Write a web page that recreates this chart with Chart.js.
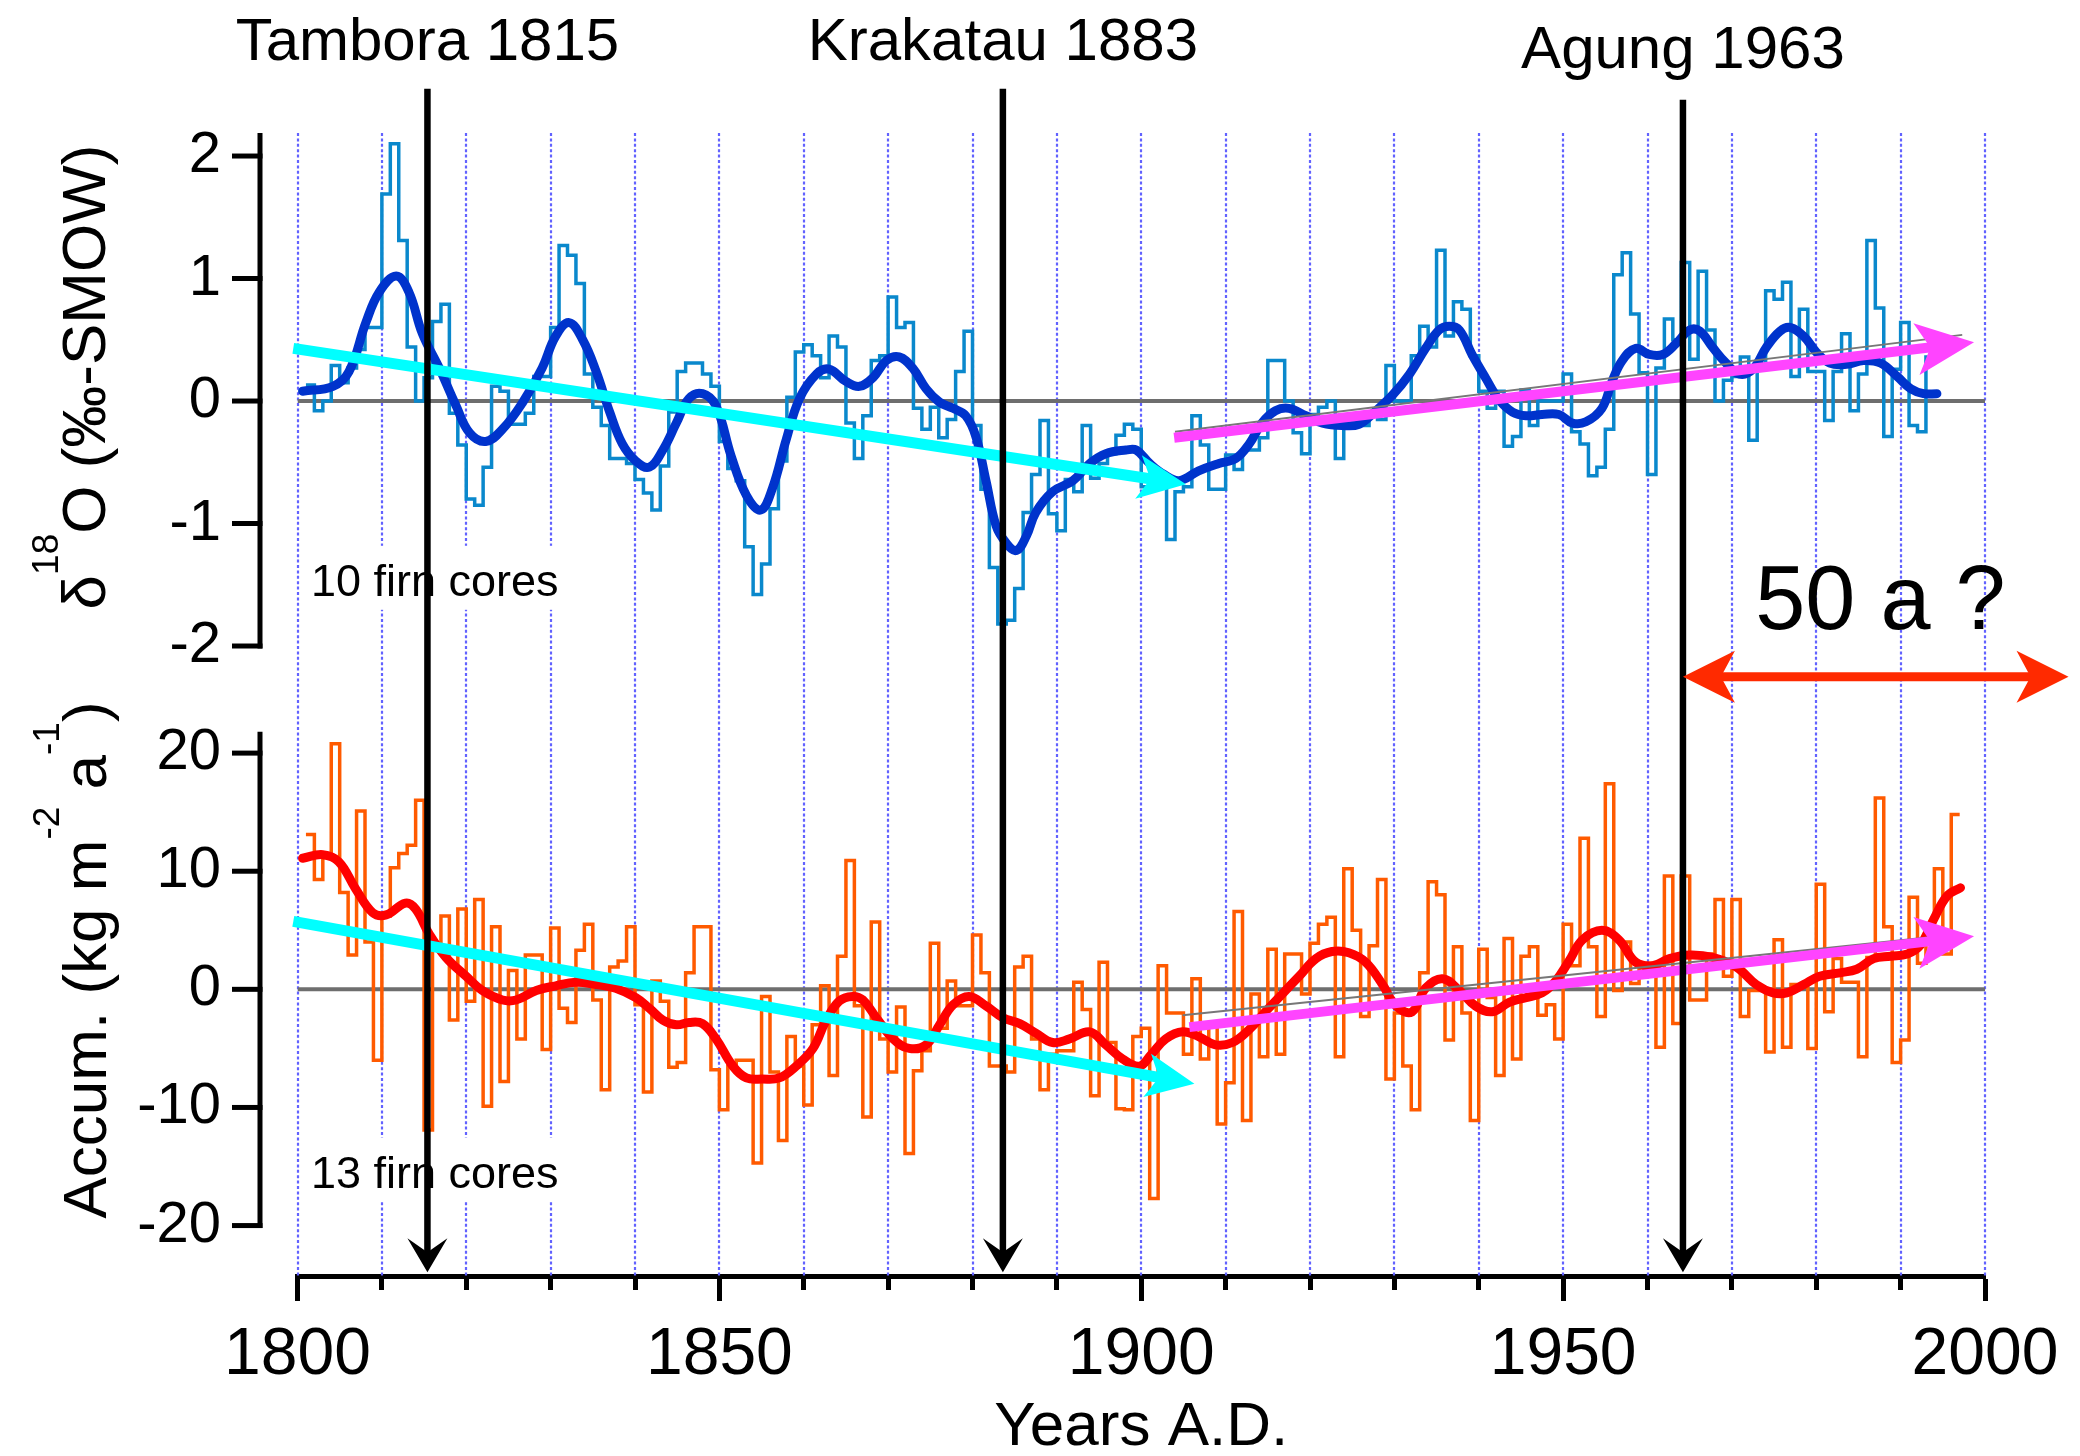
<!DOCTYPE html>
<html>
<head>
<meta charset="utf-8">
<title>δ18O and accumulation 1800–2000</title>
<script src="https://cdn.jsdelivr.net/npm/chart.js@4.4.1/dist/chart.umd.min.js"></script>
<style>
  html, body { margin: 0; padding: 0; background: #fff; }
  canvas { display: block; }
</style>
</head>
<body>
<canvas id="chart" width="2080" height="1456"></canvas>
<script>
// annual δ18O stack (10 firn cores), one value per year starting 1801
const isoFirstYear = 1801;
const isoValues = [
  0.13, -0.08, 0.00, 0.29, 0.15, 0.27, 0.42, 0.60, 0.60, 1.69,
  2.10, 1.31, 0.44, 0.00, 0.19, 0.65, 0.79, -0.10, -0.36, -0.80,
  -0.85, -0.54, 0.12, 0.08, -0.19, -0.19, -0.10, 0.20, 0.20, 0.60,
  1.27, 1.19, 0.96, 0.22, -0.05, -0.20, -0.47, -0.47, -0.51, -0.64,
  -0.75, -0.89, -0.53, -0.09, 0.24, 0.31, 0.31, 0.22, 0.12, -0.33,
  -0.55, -0.65, -1.19, -1.58, -1.33, -0.88, -0.49, 0.03, 0.40, 0.46,
  0.37, 0.19, 0.53, 0.44, -0.18, -0.47, -0.12, 0.33, 0.37, 0.85,
  0.60, 0.64, -0.06, -0.23, -0.05, -0.30, -0.15, 0.24, 0.57, -0.20,
  -0.72, -1.36, -1.82, -1.79, -1.53, -0.91, -0.60, -0.16, -0.92, -1.06,
  -0.64, -0.74, -0.20, -0.63, -0.51, -0.43, -0.28, -0.19, -0.23, -0.70,
  -0.60, -0.60, -1.13, -0.74, -0.70, -0.12, -0.36, -0.72, -0.72, -0.44,
  -0.56, -0.40, -0.40, -0.30, 0.33, 0.33, 0.00, -0.26, -0.43, -0.11,
  -0.05, 0.00, -0.47, -0.20, -0.15, -0.20, -0.10, -0.15, 0.29, 0.00,
  0.00, 0.37, 0.61, 0.44, 1.23, 0.53, 0.81, 0.75, 0.37, 0.08,
  -0.06, 0.08, -0.37, -0.29, 0.09, -0.20, 0.00, 0.00, 0.00, 0.22,
  -0.25, -0.35, -0.61, -0.54, -0.23, 1.03, 1.21, 0.71, 0.23, -0.60,
  0.27, 0.67, 0.50, 1.13, 0.34, 1.06, 0.58, 0.00, 0.17, 0.20,
  0.36, -0.32, 0.30, 0.90, 0.83, 0.97, 0.20, 0.75, 0.24, 0.24,
  -0.16, 0.24, 0.55, -0.08, 0.22, 1.31, 0.76, -0.29, 0.26, 0.64,
  -0.20, -0.25, 0.36
];

// annual accumulation anomaly (13 firn cores), kg m-2 a-1, starting 1801
const accFirstYear = 1801;
const accValues = [
  13.1, 9.3, 11.2, 20.8, 8.2, 2.9, 15.1, 4.0, -6.0, 6.2,
  10.3, 11.5, 12.2, 16.0, -11.9, 3.6, 6.2, -2.6, 6.8, -1.0,
  7.6, -9.9, 5.3, -7.8, 1.6, -4.2, 2.9, 2.9, -5.1, 5.2,
  -1.6, -2.8, 3.3, 5.5, -0.9, -8.5, 1.9, 2.4, 5.3, -1.3,
  -8.7, 0.7, -1.0, -6.6, -6.2, 1.4, 5.3, 5.3, -6.8, -10.2,
  -6.5, -6.0, -6.0, -14.7, -0.6, -7.0, -12.8, -4.0, -6.5, -9.8,
  -3.0, 0.3, -7.3, 2.8, 10.9, -1.4, -10.8, 5.7, -4.2, -7.0,
  -1.5, -13.9, -6.9, -5.2, 3.9, -3.3, 0.7, -1.4, -1.4, 4.6,
  1.4, -6.5, -6.5, -7.0, 1.9, 2.8, -4.2, -8.5, -5.5, -5.2,
  -5.2, 0.6, -1.7, -9.0, 2.3, -4.5, -10.1, -10.2, -4.0, -3.3,
  -17.7, 2.0, -2.0, -2.0, -5.5, 0.9, -5.9, -3.0, -11.4, -7.9,
  6.6, -11.1, -0.4, -5.7, 3.4, -5.5, 3.0, 3.0, -0.4, 3.9,
  5.5, 6.1, -5.7, 10.2, 5.0, -2.3, 3.7, 9.3, -7.6, -2.0,
  -6.5, -10.2, 1.4, 9.1, 8.0, -4.3, 3.6, -2.0, -11.1, 3.4,
  -0.7, -7.3, 4.3, -5.9, 2.8, 3.6, -2.2, -1.3, -4.2, 5.5,
  2.0, 12.8, 3.6, -2.3, 17.4, -0.1, 4.0, 0.5, 2.2, 2.2,
  -4.9, 9.6, -2.9, 9.6, -0.9, -0.9, 3.0, 7.6, 1.1, 7.6,
  -2.3, -0.1, -0.1, -5.3, 4.2, -4.9, 0.4, 0.4, -5.0, 8.9,
  -1.9, 2.6, 0.6, 0.6, -5.7, 2.7, 16.2, 5.3, -6.2, -4.3,
  7.8, 2.2, 5.0, 10.2, 3.0, 14.8
];

// smoothed curves
const isoSmoothYears = [
  1800.6, 1804.2, 1806.1, 1808.1, 1809.7, 1811.7, 1813.2, 1814.8, 1816.8, 1818.8,
  1820.4, 1822.3, 1824.3, 1826.7, 1829.0, 1830.6, 1832.2, 1833.8, 1835.4, 1837.0,
  1838.5, 1840.1, 1841.7, 1843.3, 1844.9, 1846.4, 1848.0, 1849.6, 1851.4, 1853.2,
  1854.9, 1856.3, 1857.9, 1859.5, 1861.5, 1863.0, 1865.0, 1866.6, 1868.2, 1869.8,
  1871.3, 1872.9, 1874.5, 1876.1, 1877.7, 1879.2, 1880.4, 1881.6, 1882.8, 1884.0,
  1885.2, 1886.4, 1887.5, 1889.5, 1891.9, 1893.9, 1895.8, 1898.2, 1899.4, 1901.0,
  1902.7, 1904.5, 1906.8, 1909.2, 1911.2, 1912.8, 1914.3, 1915.9, 1917.5, 1919.5,
  1921.5, 1923.8, 1925.8, 1927.8, 1929.8, 1931.8, 1933.7, 1935.3, 1936.5, 1937.7,
  1939.2, 1940.8, 1942.4, 1944.0, 1945.6, 1947.5, 1949.5, 1951.1, 1952.7, 1954.6,
  1955.8, 1957.0, 1958.6, 1960.2, 1961.8, 1963.4, 1965.0, 1966.2, 1967.7, 1969.3,
  1970.9, 1972.5, 1974.1, 1975.7, 1976.9, 1978.5, 1980.0, 1981.6, 1983.6, 1985.6,
  1987.6, 1989.6, 1991.2, 1992.7, 1994.3
];
const isoSmoothValues = [
  0.08, 0.12, 0.24, 0.64, 0.89, 1.02, 0.89, 0.55, 0.27, -0.04,
  -0.26, -0.33, -0.23, -0.01, 0.27, 0.53, 0.64, 0.50, 0.24, -0.09,
  -0.35, -0.49, -0.54, -0.40, -0.18, 0.02, 0.06, -0.04, -0.45, -0.77,
  -0.89, -0.71, -0.32, 0.02, 0.22, 0.26, 0.16, 0.12, 0.19, 0.33,
  0.36, 0.27, 0.10, -0.01, -0.06, -0.12, -0.29, -0.65, -1.02, -1.16,
  -1.22, -1.10, -0.91, -0.74, -0.65, -0.51, -0.43, -0.40, -0.40, -0.51,
  -0.60, -0.65, -0.57, -0.51, -0.47, -0.35, -0.18, -0.08, -0.06, -0.12,
  -0.18, -0.20, -0.19, -0.08, 0.05, 0.22, 0.43, 0.58, 0.61, 0.58,
  0.38, 0.19, 0.01, -0.09, -0.12, -0.11, -0.11, -0.18, -0.17, -0.06,
  0.16, 0.33, 0.43, 0.38, 0.38, 0.47, 0.58, 0.57, 0.44, 0.31,
  0.22, 0.26, 0.44, 0.57, 0.60, 0.53, 0.40, 0.31, 0.30, 0.33,
  0.31, 0.20, 0.10, 0.06, 0.06
];

const accSmoothYears = [
  1800.6, 1803.0, 1804.9, 1806.9, 1808.9, 1810.5, 1812.8, 1814.0, 1815.6, 1817.6,
  1820.0, 1821.9, 1824.3, 1825.9, 1828.3, 1830.6, 1833.0, 1835.4, 1837.7, 1840.1,
  1841.7, 1843.3, 1844.9, 1846.4, 1848.0, 1849.6, 1851.6, 1853.2, 1855.1, 1857.1,
  1859.1, 1861.1, 1862.6, 1864.2, 1865.8, 1867.0, 1868.6, 1870.6, 1872.5, 1874.5,
  1876.1, 1877.7, 1879.6, 1881.6, 1883.6, 1885.6, 1887.5, 1889.5, 1891.5, 1893.9,
  1895.8, 1897.8, 1899.8, 1901.2, 1902.9, 1904.9, 1906.8, 1908.8, 1910.8, 1912.8,
  1914.7, 1916.7, 1918.7, 1920.7, 1922.6, 1924.6, 1926.6, 1928.6, 1930.2, 1932.1,
  1933.7, 1935.7, 1937.7, 1939.6, 1941.6, 1943.6, 1945.6, 1947.5, 1949.1, 1950.7,
  1952.3, 1954.6, 1956.6, 1958.6, 1960.6, 1962.6, 1965.0, 1967.7, 1970.5, 1972.9,
  1974.9, 1976.5, 1978.5, 1980.4, 1982.8, 1984.8, 1986.8, 1988.8, 1990.8, 1992.3,
  1993.9, 1995.5, 1997.1
];
const accSmoothValues = [
  11.1, 11.4, 10.8, 8.5, 6.5, 6.3, 7.3, 6.8, 4.7, 2.7,
  1.1, -0.1, -0.9, -0.9, -0.1, 0.3, 0.6, 0.4, 0.1, -0.7,
  -1.6, -2.6, -3.0, -2.8, -2.9, -4.2, -6.5, -7.5, -7.6, -7.5,
  -6.5, -5.0, -2.7, -1.0, -0.6, -0.9, -2.4, -4.2, -5.0, -4.7,
  -3.0, -1.3, -0.6, -1.4, -2.4, -2.9, -3.7, -4.5, -4.2, -3.6,
  -4.7, -5.9, -6.5, -5.5, -4.2, -3.6, -4.0, -4.7, -4.5, -3.4,
  -1.9, -0.4, 1.1, 2.6, 3.2, 3.1, 2.3, 0.4, -1.4, -1.9,
  0.1, 0.9, -0.1, -1.4, -1.9, -1.1, -0.7, -0.3, 0.7, 2.4,
  4.2, 5.0, 4.2, 2.3, 2.0, 2.6, 2.9, 2.7, 1.9, 0.4,
  -0.3, -0.3, 0.4, 1.1, 1.4, 1.7, 2.6, 2.8, 3.0, 3.7,
  5.9, 7.9, 8.6
];

const zeroYears = [1800, 2000];
const isoTicks = [2, 1, 0, -1, -2];
const accTicks = [20, 10, 0, -10, -20];
const xLabels = [1800, 1850, 1900, 1950, 2000];

// eruptions: label, line position (year), label baseline and line top in δ18O units
const eruptionNames = ['Tambora 1815', 'Krakatau 1883', 'Agung 1963'];
const eruptionYears = [1815.4, 1883.6, 1964.2];
const eruptionLabelAt = [2.78, 2.78, 2.72];
const eruptionLineTop = [2.55, 2.55, 2.46];
const eruptionTip = -23.95;   // accumulation units, just above the time axis

// trend arrows: [startYear, startValue, tipYear, tipValue]
const isoTrendDown = [1799.5, 0.43, 1905.3, -0.68];
const isoTrendUp = [1903.9, -0.30, 1998.7, 0.48];
const isoTrendFit = [1904.0, -0.25, 1997.3, 0.54];
const accTrendDown = [1799.5, 5.75, 1906.3, -8.0];
const accTrendUp = [1905.7, -3.2, 1998.7, 4.5];
const accTrendFit = [1904.9, -2.2, 1996.0, 4.6];

// "50 a ?" span after Agung
const spanYears = [1964.2, 2009.9];
const spanLevel = -2.25;
const spanLabel = ['50 a ?', 1987.6, -1.86];

const FONT = '"Liberation Sans", Arial, Helvetica, sans-serif';
Chart.defaults.font.family = FONT;
Chart.defaults.color = '#000';

function stepPoints(first, values) {
  const pts = values.map((v, i) => ({ x: first + i, y: v }));
  // close the last annual step at the end of its year
  pts.push({ x: first + values.length, y: values[values.length - 1] });
  return pts;
}
function pairs(xs, ys) {
  return xs.map((x, i) => ({ x: x, y: ys[i] }));
}

function head(ctx, tx, ty, c, s, o) {
  const bx = tx - c * o.len, by = ty - s * o.len;
  const nx = tx - c * (o.len - o.notch), ny = ty - s * (o.len - o.notch);
  ctx.beginPath();
  ctx.moveTo(tx, ty);
  ctx.lineTo(bx - s * o.half, by + c * o.half);
  ctx.lineTo(nx, ny);
  ctx.lineTo(bx + s * o.half, by - c * o.half);
  ctx.closePath();
  ctx.fill();
}

function arrow(ctx, x0, y0, x1, y1, o) {
  const a = Math.atan2(y1 - y0, x1 - x0);
  const c = Math.cos(a), s = Math.sin(a);
  const back = o.len - o.notch - 1;
  const sx = o.both ? x0 + c * back : x0;
  const sy = o.both ? y0 + s * back : y0;
  ctx.save();
  ctx.strokeStyle = o.color;
  ctx.fillStyle = o.color;
  ctx.lineWidth = o.width;
  ctx.lineCap = 'butt';
  ctx.beginPath();
  ctx.moveTo(sx, sy);
  ctx.lineTo(x1 - c * back, y1 - s * back);
  ctx.stroke();
  head(ctx, x1, y1, c, s, o);
  if (o.both) head(ctx, x0, y0, -c, -s, o);
  ctx.restore();
}

function trend(ctx, x, y, t, o) {
  arrow(ctx, x.getPixelForValue(t[0]), y.getPixelForValue(t[1]),
    x.getPixelForValue(t[2]), y.getPixelForValue(t[3]), o);
}

function thinLine(ctx, x, y, t) {
  ctx.save();
  ctx.strokeStyle = '#777';
  ctx.lineWidth = 2;
  ctx.beginPath();
  ctx.moveTo(x.getPixelForValue(t[0]), y.getPixelForValue(t[1]));
  ctx.lineTo(x.getPixelForValue(t[2]), y.getPixelForValue(t[3]));
  ctx.stroke();
  ctx.restore();
}

function yAxis(ctx, scale, ticks, topValue, axisX) {
  const yTop = scale.getPixelForValue(topValue);
  const yBot = scale.getPixelForValue(ticks[ticks.length - 1]);
  ctx.save();
  ctx.strokeStyle = '#000';
  ctx.fillStyle = '#000';
  ctx.lineWidth = 5;
  ctx.beginPath();
  ctx.moveTo(axisX, yTop);
  ctx.lineTo(axisX, yBot + 2.5);
  ctx.stroke();
  ctx.font = '58px ' + FONT;
  ctx.textAlign = 'right';
  ctx.textBaseline = 'middle';
  ticks.forEach(v => {
    const y = scale.getPixelForValue(v);
    ctx.beginPath();
    ctx.moveTo(axisX - 28, y);
    ctx.lineTo(axisX + 2.5, y);
    ctx.stroke();
    ctx.fillText(String(v), axisX - 39, y);
  });
  ctx.restore();
}

function rotatedTitle(ctx, parts, baseX, centerY) {
  const main = '62px ' + FONT, sup = '37px ' + FONT;
  ctx.save();
  ctx.translate(baseX, centerY);
  ctx.rotate(-Math.PI / 2);
  const widths = parts.map(p => { ctx.font = p[1] ? sup : main; return ctx.measureText(p[0]).width; });
  let pos = -widths.reduce((a, b) => a + b, 0) / 2;
  ctx.fillStyle = '#000';
  ctx.textAlign = 'left';
  ctx.textBaseline = 'alphabetic';
  parts.forEach((p, i) => {
    ctx.font = p[1] ? sup : main;
    ctx.fillText(p[0], pos, p[1] ? -47 : 0);
    pos += widths[i];
  });
  ctx.restore();
}

function boxedLabel(ctx, text, px, py) {
  ctx.save();
  ctx.font = '45px ' + FONT;
  const w = ctx.measureText(text).width;
  ctx.fillStyle = '#fff';
  ctx.fillRect(px - 7, py - 50, w + 14, 64);
  ctx.fillStyle = '#000';
  ctx.textAlign = 'left';
  ctx.textBaseline = 'alphabetic';
  ctx.fillText(text, px, py);
  ctx.restore();
}

const decorations = {
  id: 'decorations',
  beforeDatasetsDraw(chart) {
    const { ctx, chartArea } = chart;
    const { x, yT, yB } = chart.scales;
    // dotted decade grid
    ctx.save();
    ctx.strokeStyle = '#6262ff';
    ctx.lineWidth = 2.2;
    ctx.setLineDash([3, 2.4]);
    x.ticks.forEach(t => {
      const px = Math.round(x.getPixelForValue(t.value));
      ctx.beginPath();
      ctx.moveTo(px, chartArea.top);
      ctx.lineTo(px, chartArea.bottom);
      ctx.stroke();
    });
    ctx.restore();
    boxedLabel(ctx, '10 firn cores', x.getPixelForValue(1801.6), yT.getPixelForValue(-1.59));
    boxedLabel(ctx, '13 firn cores', x.getPixelForValue(1801.6), yB.getPixelForValue(-16.8));
  },
  afterDatasetsDraw(chart) {
    const { ctx } = chart;
    const { x, yT, yB } = chart.scales;
    const axisX = x.getPixelForValue(1800) - 37.5;

    yAxis(ctx, yT, isoTicks, 2.188, axisX);
    yAxis(ctx, yB, accTicks, 21.8, axisX);
    rotatedTitle(ctx, [['δ', 0], ['18', 1], ['O (‰-SMOW)', 0]], 105, 377);
    rotatedTitle(ctx, [['Accum. (kg m', 0], ['-2', 1], [' a', 0], ['-1', 1], [')', 0]], 106, 960);

    // trend lines and arrows
    thinLine(ctx, x, yT, isoTrendFit);
    thinLine(ctx, x, yB, accTrendFit);
    const cyan = { color: '#00ffff', width: 11, len: 48, half: 22, notch: 12 };
    const pink = { color: '#ff44ff', width: 10, len: 58, half: 26, notch: 14 };
    trend(ctx, x, yT, isoTrendDown, cyan);
    trend(ctx, x, yT, isoTrendUp, pink);
    trend(ctx, x, yB, accTrendDown, cyan);
    trend(ctx, x, yB, accTrendUp, pink);

    // eruption markers
    const black = { color: '#000', width: 6.5, len: 34, half: 20, notch: 14 };
    ctx.save();
    ctx.font = '60px ' + FONT;
    ctx.fillStyle = '#000';
    ctx.textAlign = 'center';
    ctx.textBaseline = 'alphabetic';
    eruptionYears.forEach((yr, i) => {
      const px = x.getPixelForValue(yr);
      arrow(ctx, px, yT.getPixelForValue(eruptionLineTop[i]), px, yB.getPixelForValue(eruptionTip), black);
      ctx.fillText(eruptionNames[i], px, yT.getPixelForValue(eruptionLabelAt[i]));
    });
    ctx.restore();

    // 50 a ? span
    const sy = yT.getPixelForValue(spanLevel);
    arrow(ctx, x.getPixelForValue(spanYears[0]), sy, x.getPixelForValue(spanYears[1]), sy,
      { color: '#ff2a00', width: 9, len: 52, half: 26, notch: 14, both: true });
    ctx.save();
    ctx.font = '90px ' + FONT;
    ctx.fillStyle = '#000';
    ctx.textAlign = 'center';
    ctx.textBaseline = 'alphabetic';
    ctx.fillText(spanLabel[0], x.getPixelForValue(spanLabel[1]), yT.getPixelForValue(spanLabel[2]));
    ctx.restore();
  }
};

new Chart(document.getElementById('chart'), {
  type: 'line',
  data: {
    datasets: [
      { label: 'δ18O smoothed', data: pairs(isoSmoothYears, isoSmoothValues), yAxisID: 'yT',
        borderColor: '#0033cc', borderWidth: 9, tension: 0.4, pointRadius: 0,
        borderCapStyle: 'round', borderJoinStyle: 'round', order: 1 },
      { label: 'δ18O annual', data: stepPoints(isoFirstYear, isoValues), yAxisID: 'yT',
        stepped: 'before', borderColor: '#0a88cc', borderWidth: 3.5, pointRadius: 0, order: 2 },
      { label: 'δ18O zero', data: pairs(zeroYears, [0, 0]), yAxisID: 'yT',
        borderColor: '#6e6e6e', borderWidth: 4, pointRadius: 0, order: 3 },
      { label: 'accumulation smoothed', data: pairs(accSmoothYears, accSmoothValues), yAxisID: 'yB',
        borderColor: '#ff0000', borderWidth: 9, tension: 0.4, pointRadius: 0,
        borderCapStyle: 'round', borderJoinStyle: 'round', order: 1 },
      { label: 'accumulation annual', data: stepPoints(accFirstYear, accValues), yAxisID: 'yB',
        stepped: 'before', borderColor: '#ff5a00', borderWidth: 3.5, pointRadius: 0, order: 2 },
      { label: 'accumulation zero', data: pairs(zeroYears, [0, 0]), yAxisID: 'yB',
        borderColor: '#6e6e6e', borderWidth: 4, pointRadius: 0, order: 3 }
    ]
  },
  options: {
    responsive: false,
    devicePixelRatio: 1,
    animation: false,
    events: [],
    layout: { padding: { left: 297.5, right: 95, top: 133, bottom: 0 } },
    plugins: { legend: { display: false }, tooltip: { enabled: false } },
    scales: {
      x: {
        type: 'linear',
        position: 'bottom',
        min: 1800,
        max: 2000,
        afterFit: s => { s.height = 180; },
        grid: {
          drawOnChartArea: false,
          tickLength: 25,
          tickWidth: 5,
          tickColor: '#000',
          tickBorderDash: c => (c.tick && c.tick.value % 50 === 0) ? [] : [11, 60]
        },
        border: { display: true, color: '#000', width: 5 },
        ticks: {
          stepSize: 10,
          autoSkip: false,
          maxRotation: 0,
          minRotation: 0,
          padding: 15,
          color: '#000',
          font: { size: 66 },
          callback: v => xLabels.includes(v) ? String(v) : ''
        },
        title: {
          display: true,
          text: 'Years A.D.',
          color: '#000',
          font: { size: 62, lineHeight: 0.9 },
          padding: { top: 0, bottom: 0 }
        }
      },
      yT: { type: 'linear', display: false, min: -7.143, max: 2.188 },
      yB: { type: 'linear', display: false, min: -24.27, max: 72.5 }
    }
  },
  plugins: [decorations]
});
</script>
</body>
</html>
